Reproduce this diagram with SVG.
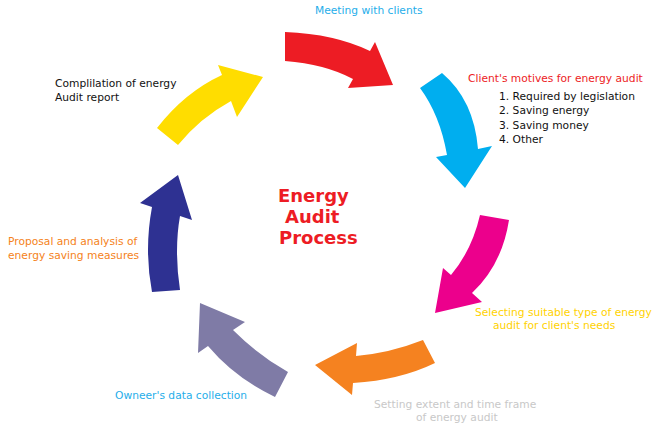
<svg xmlns="http://www.w3.org/2000/svg" width="660" height="427" viewBox="0 0 660 427">
<style>
text{font-family:"DejaVu Sans","Liberation Sans",sans-serif;font-size:10.7px}
.t{font-size:18px;font-weight:bold;fill:#ED1C24}
</style>
<rect width="660" height="427" fill="#fff"/>
<g id="connectors">
<path id="a-red" fill="#ED1C24" d="M285,32 Q335,34 370,51 L375,42 L393,85 L348,88 L353,79 Q325,64 285,61 Z"/>
<path id="a-blue" fill="#00AEEF" d="M442,73 Q474,100 478,149 L492,146 L465,188 L436,157 L447,155 Q440,115 420,88 Z"/>
<path id="a-pink" fill="#EC008C" d="M480,215 L509,220 Q502,265 472,293 L482,302 L435,313 L443,268 L451,275 Q472,250 480,215 Z"/>
<path id="a-orange" fill="#F58220" d="M423,340 L435,363 Q400,380 353,383 L352,395 L315,365 L357,343 L356,356 Q390,353 423,340 Z"/>
<path id="a-purple" fill="#7F7BA6" d="M288,372 L275,397 Q235,378 208,346 L198,353 L200,303 L245,322 L233,330 Q258,355 288,372 Z"/>
<path id="a-navy" fill="#2E3192" d="M152,292 L180,290 Q174,250 180,216 L192,220 L178,175 L140,203 L152,207 Q144,250 152,292 Z"/>
<path id="a-yellow" fill="#FFDD00" d="M157,128 Q185,92 222,75 L218,65 L263,77 L237,117 L231,101 Q200,118 178,145 Z"/>
</g>
<g id="n-title">
<text class="t" x="278" y="202">Energy</text>
<text class="t" x="285" y="223">Audit</text>
<text class="t" x="279" y="244">Process</text>
</g>
<g id="n-meeting"><text x="315" y="14" fill="#1FAEEA">Meeting with clients</text></g>
<g id="n-motives">
<text x="468" y="82" fill="#ED1C24">Client's motives for energy audit</text>
<text x="499" y="100" fill="#111">1. Required by legislation</text>
<text x="499" y="114" fill="#111">2. Saving energy</text>
<text x="499" y="129" fill="#111">3. Saving money</text>
<text x="499" y="143" fill="#111">4. Other</text>
</g>
<g id="n-selecting">
<text x="475" y="316" fill="#FFD200">Selecting suitable type of energy</text>
<text x="493" y="329" fill="#FFD200">audit for client's needs</text>
</g>
<g id="n-setting">
<text x="374" y="408" fill="#C8C8C8">Setting extent and time frame</text>
<text x="416" y="421" fill="#C8C8C8">of energy audit</text>
</g>
<g id="n-owner"><text x="115" y="399" fill="#1FAEEA">Owneer's data collection</text></g>
<g id="n-proposal">
<text x="8" y="245" fill="#F58220">Proposal and analysis of</text>
<text x="8" y="259" fill="#F58220">energy saving measures</text>
</g>
<g id="n-compilation">
<text x="55" y="87" fill="#111">Complilation of energy</text>
<text x="55" y="101" fill="#111">Audit report</text>
</g>
</svg>
